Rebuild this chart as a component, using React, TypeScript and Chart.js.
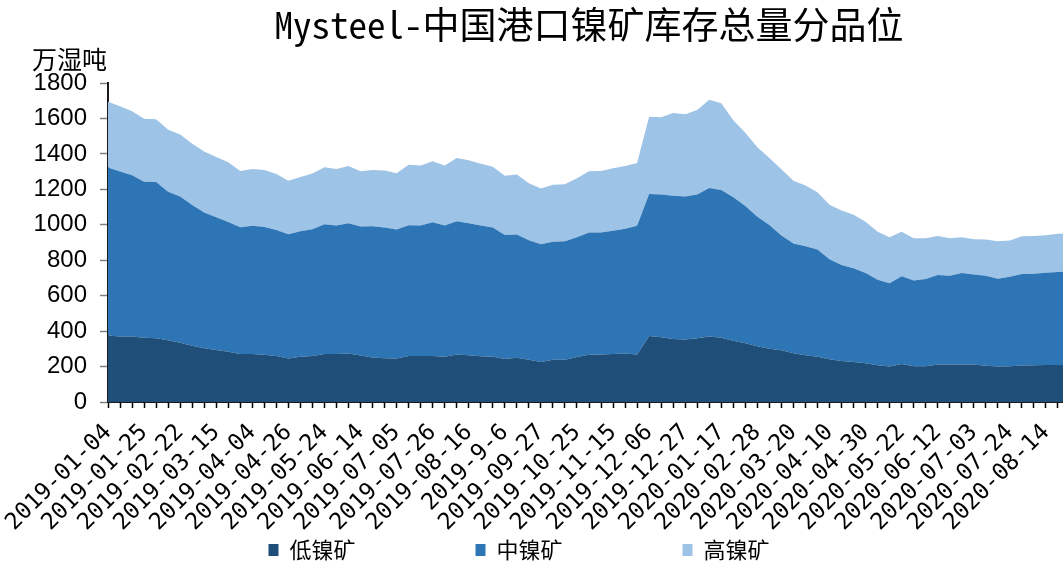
import React, { useEffect, useRef } from "react";
import { Chart, registerables } from "chart.js";

Chart.register(...registerables);

const TITLE = "Mysteel-中国港口镍矿库存总量分品位";
const UNIT = "万湿吨";
const SERIES_NAMES = ["低镍矿", "中镍矿", "高镍矿"];
const COLORS = ["#1F4E79", "#2E75B6", "#9DC3E6"];

const DATES = [
  "2019-01-04", "2019-01-11", "2019-01-18", "2019-01-25", "2019-02-01", "2019-02-15", "2019-02-22",
  "2019-03-01", "2019-03-08", "2019-03-15", "2019-03-22", "2019-03-29", "2019-04-04", "2019-04-12",
  "2019-04-19", "2019-04-26", "2019-05-10", "2019-05-17", "2019-05-24", "2019-05-31", "2019-06-06",
  "2019-06-14", "2019-06-21", "2019-06-28", "2019-07-05", "2019-07-12", "2019-07-19", "2019-07-26",
  "2019-08-02", "2019-08-09", "2019-08-16", "2019-08-23", "2019-08-30", "2019-9-6", "2019-09-12",
  "2019-09-20", "2019-09-27", "2019-10-11", "2019-10-18", "2019-10-25", "2019-11-01", "2019-11-08",
  "2019-11-15", "2019-11-22", "2019-11-29", "2019-12-06", "2019-12-13", "2019-12-20", "2019-12-27",
  "2020-01-03", "2020-01-10", "2020-01-17", "2020-02-14", "2020-02-21", "2020-02-28", "2020-03-06",
  "2020-03-13", "2020-03-20", "2020-03-27", "2020-04-03", "2020-04-10", "2020-04-17", "2020-04-24",
  "2020-04-30", "2020-05-08", "2020-05-15", "2020-05-22", "2020-05-29", "2020-06-05", "2020-06-12",
  "2020-06-19", "2020-06-24", "2020-07-03", "2020-07-10", "2020-07-17", "2020-07-24", "2020-07-31",
  "2020-08-07", "2020-08-14", "2020-08-21", "2020-08-28",
];

const LOW_ORE = [
  375, 369, 369, 363, 360, 348, 335, 318, 303, 294, 283, 271, 271, 266, 260, 245, 255, 260, 271, 271,
  273, 262, 251, 247, 245, 260, 260, 260, 255, 268, 264, 258, 255, 243, 249, 238, 226, 238, 238, 254,
  266, 268, 271, 273, 268, 373, 365, 356, 352, 360, 369, 362, 345, 332, 315, 301, 292, 275, 264,
  255, 241, 232, 226, 219, 208, 200, 215, 202, 202, 211, 211, 211, 211, 204, 200, 202, 206, 208, 209, 209, 209,
];

const MID_ORE = [
  948, 932, 911, 880, 881, 838, 825, 794, 766, 749, 733, 715, 723, 722, 711, 702, 709, 715, 732, 725,
  736, 728, 741, 737, 728, 737, 736, 754, 741, 752, 745, 738, 729, 700, 696, 675, 664, 666, 669, 675,
  690, 688, 696, 704, 726, 800, 806, 808, 808, 811, 838, 834, 811, 774, 731, 698, 647, 619, 615,
  606, 564, 541, 528, 509, 482, 470, 494, 483, 492, 506, 502, 517, 508, 509, 496, 505, 516, 516, 521, 525, 527,
];

const HIGH_ORE = [
  371, 368, 361, 355, 355, 350, 349, 345, 344, 340, 337, 318, 321, 321, 316, 302, 306, 314, 321, 319,
  323, 312, 317, 322, 318, 342, 339, 344, 338, 357, 355, 349, 344, 333, 338, 321, 315, 322, 321, 333,
  346, 348, 352, 355, 355, 436, 436, 467, 464, 476, 498, 490, 434, 413, 391, 378, 374, 355, 342,
  322, 308, 308, 303, 289, 270, 260, 251, 239, 230, 220, 211, 202, 200, 204, 211, 204, 213, 213, 211, 215, 216,
];

const Y_MIN = 0;
const Y_MAX = 1800;
const Y_STEP = 200;

const unitLabelPlugin = {
  id: "unitLabel",
  afterDraw(chart: any) {
    const { ctx, chartArea } = chart;
    ctx.save();
    ctx.font = '25px "Noto Sans CJK SC"';
    ctx.fillStyle = "#000";
    ctx.textAlign = "left";
    ctx.textBaseline = "middle";
    ctx.fillText(UNIT, chartArea.left - 76, chartArea.top - 24);
    ctx.restore();
  },
};

export default function App() {
  const canvasRef = useRef<HTMLCanvasElement | null>(null);

  useEffect(() => {
    if (!canvasRef.current) return;
    const series = [LOW_ORE, MID_ORE, HIGH_ORE];
    const chart = new Chart(canvasRef.current, {
      type: "line",
      data: {
        labels: DATES,
        datasets: series.map((values, i) => ({
          label: SERIES_NAMES[i],
          data: values,
          backgroundColor: COLORS[i],
          borderColor: COLORS[i],
          borderWidth: 0,
          pointRadius: 0,
          tension: 0,
          fill: i === 0 ? "origin" : "-1",
        })),
      },
      options: {
        animation: false,
        responsive: false,
        devicePixelRatio: 1,
        events: [],
        layout: { padding: 0 },
        scales: {
          x: {
            type: "category",
            offset: false,
            grid: {
              display: true,
              drawOnChartArea: false,
              drawTicks: true,
              tickLength: 6,
              tickColor: "#000",
              tickWidth: 1.5,
            },
            border: { display: true, color: "#1a1a1a", width: 2 },
            ticks: {
              autoSkip: false,
              maxRotation: 45,
              minRotation: 45,
              padding: 11,
              color: "#000",
              font: { family: '"DejaVu Sans Mono", monospace', size: 23 },
              callback: (_v: any, idx: number) => (idx % 3 === 0 ? DATES[idx] : ""),
            },
            afterFit: (scale: any) => {
              // the legend's reserved band sits under the rotated labels
              scale.height = 17;
              scale.paddingLeft = 0;
              scale.paddingRight = 0;
              scale._computeLabelArea = () => undefined;
            },
          },
          y: {
            stacked: true,
            min: Y_MIN,
            max: Y_MAX,
            grid: {
              display: true,
              drawOnChartArea: false,
              drawTicks: true,
              tickLength: 8,
              tickColor: "#808080",
              tickWidth: 1.5,
            },
            border: { display: true, color: "#1a1a1a", width: 2 },
            ticks: {
              stepSize: Y_STEP,
              padding: 13,
              color: "#000",
              font: { family: '"Liberation Sans", Arial, sans-serif', size: 24 },
              callback: (v: any) => String(v),
            },
            afterFit: (scale: any) => {
              scale.width = 140;
            },
          },
        },
        plugins: {
          title: {
            display: true,
            text: TITLE,
            fullSize: false,
            color: "#000",
            font: { family: '"Noto Sans Mono CJK SC", "Noto Sans CJK SC", monospace', size: 37, weight: "normal" },
            padding: { top: 3, bottom: 35.6 },
          },
          legend: {
            display: true,
            position: "bottom",
            labels: {
              boxWidth: 10,
              boxHeight: 12,
              padding: 120,
              color: "#000",
              font: { family: '"Noto Sans CJK SC", sans-serif', size: 22 },
            },
          },
          tooltip: { enabled: false },
        },
      },
      plugins: [unitLabelPlugin],
    } as any);
    return () => chart.destroy();
  }, []);

  return (
    <div
      style={{
        position: "fixed",
        left: 0,
        top: 0,
        width: 1063,
        height: 566,
        overflow: "hidden",
        background: "#fff",
      }}
    >
      <canvas
        ref={canvasRef}
        width={1102}
        height={571}
        style={{ position: "absolute", left: -32, top: 0, width: 1102, height: 571 }}
      />
    </div>
  );
}
